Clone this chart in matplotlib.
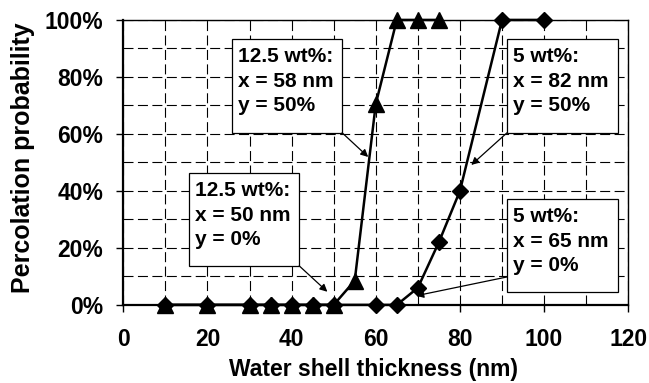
import numpy as np
import matplotlib
matplotlib.use('Agg')
import matplotlib.pyplot as plt
from matplotlib.patches import Rectangle
from matplotlib.ticker import MultipleLocator, PercentFormatter

plt.rcParams['font.family'] = ['Liberation Sans', 'DejaVu Sans']
plt.rcParams['font.weight'] = 'bold'

# 12.5 wt% series (triangles)
x_125 = [10, 20, 30, 35, 40, 45, 50, 55, 60, 65, 70, 75]
p_125 = [0, 0, 0, 0, 0, 0, 0, 8.5, 70.5, 100, 100, 100]

# 5 wt% series (diamonds)
x_5 = [10, 20, 30, 35, 40, 45, 50, 60, 65, 70, 75, 80, 90, 100]
p_5 = [0, 0, 0, 0, 0, 0, 0, 0, 0, 6, 22, 40, 100, 100]

# callout text and boxes (x0, x1, y0, y1) in data units
note_text = ["12.5 wt%:\nx = 58 nm\ny = 50%",
             "12.5 wt%:\nx = 50 nm\ny = 0%",
             "5 wt%:\nx = 82 nm\ny = 50%",
             "5 wt%:\nx = 65 nm\ny = 0%"]
note_box = [(25.9, 52.0, 60.4, 93.3),
            (15.7, 41.8, 13.7, 46.3),
            (91.2, 117.6, 60.4, 93.3),
            (91.2, 117.6, 4.6, 37.2)]
arrow_start = [(52.0, 60.4), (41.8, 13.7), (91.2, 60.4), (91.2, 9.8)]
arrow_end = [(58.2, 51.9), (48.5, 4.6), (82.7, 49.1), (69.6, 3.2)]

fig = plt.figure(figsize=(6.49, 3.83), dpi=100)
ax = fig.add_axes([0.19, 0.204, 0.778, 0.744])

ax.plot(x_5, p_5, color='black', lw=1.8, marker='D', markersize=8.5, clip_on=False, zorder=3)
ax.plot(x_125, p_125, color='black', lw=1.8, marker='^', markersize=11, clip_on=False, zorder=4)

for txt, (x0, x1, y0, y1), a0, a1 in zip(note_text, note_box, arrow_start, arrow_end):
    ax.add_patch(Rectangle((x0, y0), x1 - x0, y1 - y0, fc='white', ec='black', lw=0.9, zorder=5))
    ax.text(x0 + 1.4, y1 - 2.9, txt, ha='left', va='top', fontsize=15, fontweight='bold',
            linespacing=1.37, zorder=6)
    ax.annotate('', xy=a1, xytext=a0,
                arrowprops=dict(arrowstyle='-|>', color='black', lw=0.9, mutation_scale=11,
                                shrinkA=0, shrinkB=0),
                zorder=6)

ax.set_xlim(0, 120)
ax.set_ylim(0, 100)
ax.xaxis.set_major_locator(MultipleLocator(20))
ax.xaxis.set_minor_locator(MultipleLocator(10))
ax.yaxis.set_major_locator(MultipleLocator(20))
ax.yaxis.set_minor_locator(MultipleLocator(10))
ax.yaxis.set_major_formatter(PercentFormatter(decimals=0))
ax.grid(True, which='both', color='black', lw=0.8, linestyle=(0, (9, 4)))
ax.tick_params(which='major', direction='out', length=5, width=1, labelsize=16.5)
ax.tick_params(axis='x', pad=11.3)
ax.tick_params(axis='y', pad=9.4)
ax.tick_params(which='minor', length=0)
for lbl in ax.get_xticklabels() + ax.get_yticklabels():
    lbl.set_fontweight('bold')

for side in ['left', 'bottom']:
    ax.spines[side].set_linewidth(1.6)
for side in ['top', 'right']:
    ax.spines[side].set_linewidth(1.0)

ax.set_xlabel('Water shell thickness (nm)', fontsize=16.5, fontweight='bold')
ax.set_ylabel('Percolation probability', fontsize=18, fontweight='bold')
ax.xaxis.set_label_coords(0.495, -0.185)
ax.yaxis.set_label_coords(-0.198, 0.518)
ax.yaxis.label.set_va('center')

plt.savefig('out.png', dpi=100)
